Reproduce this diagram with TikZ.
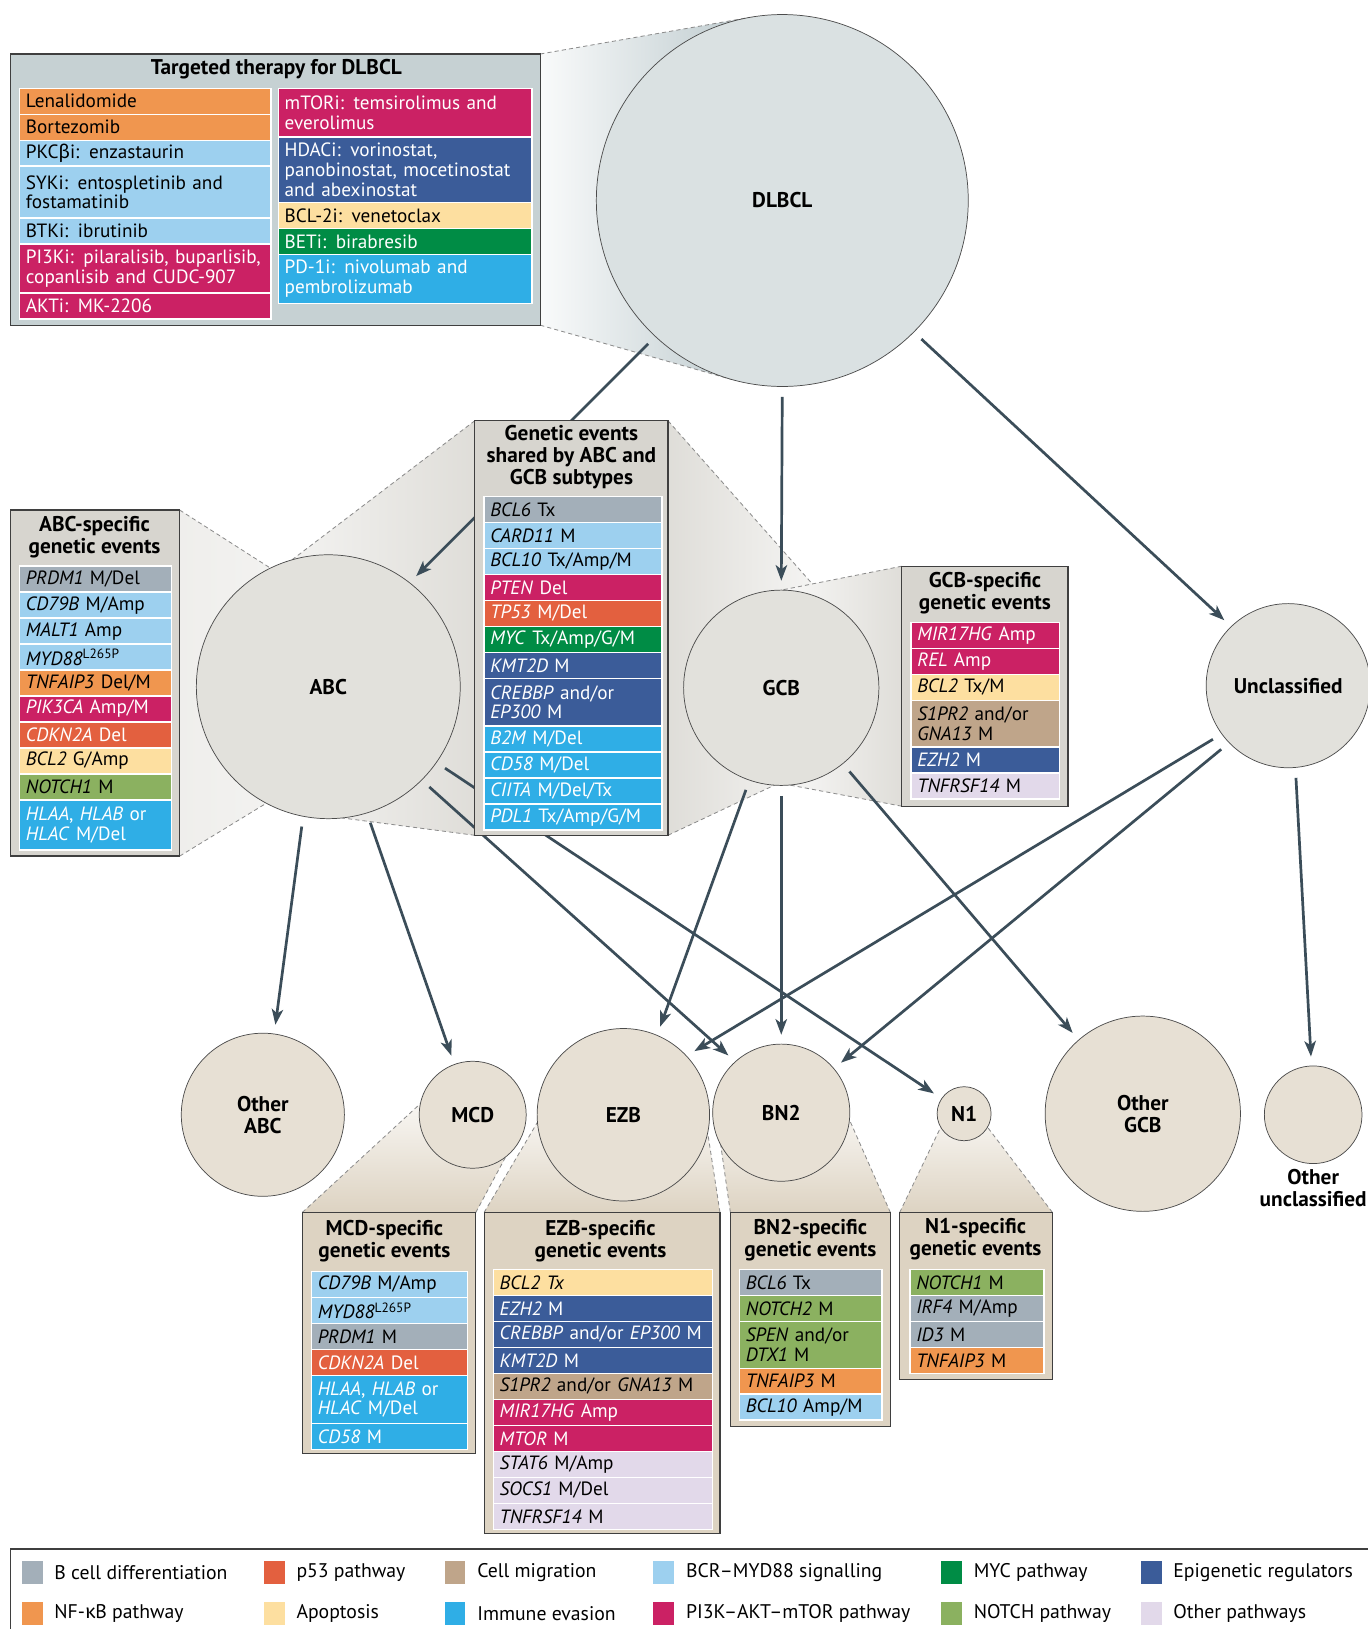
\documentclass[tikz,border=0pt]{standalone}
\usepackage{fontspec}
\setmainfont{PT Sans}
\newfontfamily\grk{Fira Sans}
\usetikzlibrary{positioning,arrows.meta}

\definecolor{cbcell}{HTML}{A3AFB9}
\definecolor{cpf}{HTML}{E3603F}
\definecolor{cmig}{HTML}{BFA58A}
\definecolor{cbcr}{HTML}{9DD0EF}
\definecolor{cmyc}{HTML}{008C45}
\definecolor{cepi}{HTML}{3B5C99}
\definecolor{cnfkb}{HTML}{F0964F}
\definecolor{capo}{HTML}{FDDFA0}
\definecolor{cimm}{HTML}{2FAEE6}
\definecolor{cpik}{HTML}{CB2164}
\definecolor{cnot}{HTML}{8BB160}
\definecolor{coth}{HTML}{E2D9EA}
\definecolor{therfill}{HTML}{C6D1D3}
\definecolor{midfill}{HTML}{D7D5CF}
\definecolor{lowfill}{HTML}{DDD3C2}
\definecolor{boxline}{HTML}{3F3F3F}
\definecolor{arrowc}{HTML}{3B4D59}
\definecolor{dlin}{HTML}{DAE1E2}
\definecolor{dlout}{HTML}{B4C3C7}
\definecolor{midin}{HTML}{E2E1DC}
\definecolor{midout}{HTML}{C3C1BA}
\definecolor{lowin}{HTML}{E7E0D4}
\definecolor{lowout}{HTML}{CBBEA8}

\pgfdeclareradialshading{dlball}{\pgfpoint{0bp}{0bp}}{color(0bp)=(dlin); color(32bp)=(dlin); color(50bp)=(dlout); color(100bp)=(dlout)}
\pgfdeclareradialshading{midball}{\pgfpoint{0bp}{0bp}}{color(0bp)=(midin); color(32bp)=(midin); color(50bp)=(midout); color(100bp)=(midout)}
\pgfdeclareradialshading{lowball}{\pgfpoint{0bp}{0bp}}{color(0bp)=(lowin); color(32bp)=(lowin); color(50bp)=(lowout); color(100bp)=(lowout)}

\pgfdeclarelayer{bg}
\pgfdeclarelayer{mid}
\pgfsetlayers{bg,mid,main}

\newcommand{\gfont}{\fontsize{18.5}{19}\selectfont}
\newcommand{\tfont}{\fontsize{20.5}{21}\selectfont\bfseries}
\newcommand{\lfont}{\fontsize{19}{20}\selectfont}

\begin{document}
\begin{tikzpicture}[x=1pt,y=-1pt,>={Stealth[length=15pt,width=11pt,inset=4pt]}]
\tikzstyle{ball} = [circle,draw=black!70,line width=0.7pt,inner sep=0pt,outer sep=0pt,
font=\tfont,align=center]
\tikzstyle{panel} = [rectangle,draw=boxline,line width=1.2pt,anchor=north west,inner sep=0pt,outer sep=0pt]
\tikzstyle{ttl} = [font=\tfont,align=center,inner sep=0pt]
\tikzstyle{gene} = [rectangle,draw=white,line width=1.4pt,anchor=north west,inner xsep=6pt,
inner ysep=0pt,outer sep=0pt,minimum height=25pt,align=left,font=\gfont,text=black]
\tikzstyle{dark} = [text=white]
\tikzstyle{thw} = [text width=230pt]
\tikzstyle{thv} = [text width=232pt]
\tikzstyle{abw} = [text width=134pt]
\tikzstyle{shw} = [text width=159pt]
\tikzstyle{gcw} = [text width=131pt]
\tikzstyle{mcw} = [text width=138pt]
\tikzstyle{ezw} = [text width=199pt]
\tikzstyle{bnw} = [text width=125pt]
\tikzstyle{naw} = [text width=117pt]
\tikzstyle{flow} = [->,draw=arrowc,line width=2.6pt,shorten <=10pt,shorten >=9pt]
\tikzstyle{funline} = [draw=black!45,line width=0.8pt,dash pattern=on 4pt off 3pt]
\tikzstyle{swatch} = [rectangle,minimum width=20pt,minimum height=22pt,inner sep=0pt]
\tikzstyle{legtxt} = [font=\lfont,inner sep=3pt,anchor=west]

\useasboundingbox (0,0) rectangle (1316,1568);

% subtype circles
\node[ball,minimum size=358pt,shading=dlball] (dl) at (753,193) {DLBCL};
\node[ball,minimum size=254pt,shading=midball] (abc) at (316,661) {ABC};
\node[ball,minimum size=188pt,shading=midball] (gcb) at (752,662) {GCB};
\node[ball,minimum size=158pt,shading=midball] (unc) at (1240,660) {Unclassified};
\node[ball,minimum size=157pt,shading=lowball] (oabc) at (253,1073) {Other\\ABC};
\node[ball,minimum size=103pt,shading=lowball] (mcd) at (455,1073) {MCD};
\node[ball,minimum size=166pt,shading=lowball] (ezb) at (600,1073) {EZB};
\node[ball,minimum size=132pt,shading=lowball] (bn2) at (752,1071) {BN2};
\node[ball,minimum size=52pt,shading=lowball] (n1) at (928,1072) {N1};
\node[ball,minimum size=188pt,shading=lowball] (ogcb) at (1100,1072) {Other\\GCB};
\node[ball,minimum size=94pt,shading=lowball] (ounc) at (1264,1073) {};
\node[ttl,below=5pt of ounc] (ounct) {Other\\unclassified};

% targeted therapy
\node[panel,fill=therfill,minimum width=510pt,minimum height=261pt] (ther) at (10,52) {};
\node[ttl] (thert) at (266,67) {Targeted therapy for DLBCL};
\node[gene,thw,fill=cnfkb] (th1) at (19,85) {Lenalidomide};
\node[gene,thw,fill=cnfkb] (th2) at (19,110) {Bortezomib};
\node[gene,thw,fill=cbcr] (th3) at (19,135) {PKC{\grk β}i: enzastaurin};
\node[gene,thw,fill=cbcr,minimum height=50pt] (th4) at (19,160) {SYKi: entospletinib and\\fostamatinib};
\node[gene,thw,fill=cbcr] (th5) at (19,210) {BTKi: ibrutinib};
\node[gene,thw,dark,fill=cpik,minimum height=47pt] (th6) at (19,235) {PI3Ki: pilaralisib, buparlisib,\\copanlisib and CUDC-907};
\node[gene,thw,dark,fill=cpik] (th7) at (19,282) {AKTi: MK-2206};
\node[gene,thv,dark,fill=cpik,minimum height=47pt] (th8) at (268,85) {mTORi: temsirolimus and\\everolimus};
\node[gene,thv,dark,fill=cepi,minimum height=63pt] (th9) at (268,132) {HDACi: vorinostat,\\panobinostat, mocetinostat\\and abexinostat};
\node[gene,thv,fill=capo] (th10) at (268,195) {BCL-2i: venetoclax};
\node[gene,thv,dark,fill=cmyc] (th11) at (268,220) {BETi: birabresib};
\node[gene,thv,dark,fill=cimm,minimum height=47pt] (th12) at (268,245) {PD-1i: nivolumab and\\pembrolizumab};

% ABC-specific
\node[panel,fill=midfill,minimum width=163pt,minimum height=333pt] (abcb) at (10,491) {};
\node[ttl] (abct) at (91,517) {ABC-specific\\genetic events};
\node[gene,abw,fill=cbcell] (ab1) at (19,545) {\textit{PRDM1} M/Del};
\node[gene,abw,fill=cbcr] (ab2) at (19,570) {\textit{CD79B} M/Amp};
\node[gene,abw,fill=cbcr] (ab3) at (19,595) {\textit{MALT1} Amp};
\node[gene,abw,fill=cbcr] (ab4) at (19,620) {\textit{MYD88}\textsuperscript{L265P}};
\node[gene,abw,fill=cnfkb] (ab5) at (19,645) {\textit{TNFAIP3} Del/M};
\node[gene,abw,dark,fill=cpik] (ab6) at (19,670) {\textit{PIK3CA} Amp/M};
\node[gene,abw,dark,fill=cpf] (ab7) at (19,695) {\textit{CDKN2A} Del};
\node[gene,abw,fill=capo] (ab8) at (19,720) {\textit{BCL2} G/Amp};
\node[gene,abw,fill=cnot] (ab9) at (19,745) {\textit{NOTCH1} M};
\node[gene,abw,dark,fill=cimm,minimum height=48pt] (ab10) at (19,770) {\textit{HLAA}, \textit{HLAB} or\\\textit{HLAC} M/Del};

% shared ABC and GCB
\node[panel,fill=midfill,minimum width=186pt,minimum height=399pt] (shb) at (457,405) {};
\node[ttl] (sht) at (550,440) {Genetic events\\shared by ABC and\\GCB subtypes};
\node[gene,shw,fill=cbcell] (sh1) at (466,478) {\textit{BCL6} Tx};
\node[gene,shw,fill=cbcr] (sh2) at (466,503) {\textit{CARD11} M};
\node[gene,shw,fill=cbcr] (sh3) at (466,528) {\textit{BCL10} Tx/Amp/M};
\node[gene,shw,dark,fill=cpik] (sh4) at (466,553) {\textit{PTEN} Del};
\node[gene,shw,dark,fill=cpf] (sh5) at (466,578) {\textit{TP53} M/Del};
\node[gene,shw,dark,fill=cmyc] (sh6) at (466,603) {\textit{MYC} Tx/Amp/G/M};
\node[gene,shw,dark,fill=cepi] (sh7) at (466,628) {\textit{KMT2D} M};
\node[gene,shw,dark,fill=cepi,minimum height=46pt] (sh8) at (466,653) {\textit{CREBBP} and/or\\\textit{EP300} M};
\node[gene,shw,dark,fill=cimm] (sh9) at (466,699) {\textit{B2M} M/Del};
\node[gene,shw,dark,fill=cimm] (sh10) at (466,724) {\textit{CD58} M/Del};
\node[gene,shw,dark,fill=cimm] (sh11) at (466,749) {\textit{CIITA} M/Del/Tx};
\node[gene,shw,dark,fill=cimm] (sh12) at (466,774) {\textit{PDL1} Tx/Amp/G/M};

% GCB-specific
\node[panel,fill=midfill,minimum width=160pt,minimum height=231pt] (gcbb) at (868,545) {};
\node[ttl] (gcbt) at (948,571) {GCB-specific\\genetic events};
\node[gene,gcw,dark,fill=cpik] (gc1) at (877,599) {\textit{MIR17HG} Amp};
\node[gene,gcw,dark,fill=cpik] (gc2) at (877,624) {\textit{REL} Amp};
\node[gene,gcw,fill=capo] (gc3) at (877,649) {\textit{BCL2} Tx/M};
\node[gene,gcw,fill=cmig,minimum height=45pt] (gc4) at (877,674) {\textit{S1PR2} and/or\\\textit{GNA13} M};
\node[gene,gcw,dark,fill=cepi] (gc5) at (877,719) {\textit{EZH2} M};
\node[gene,gcw,fill=coth] (gc6) at (877,744) {\textit{TNFRSF14} M};

% MCD-specific
\node[panel,fill=lowfill,minimum width=167pt,minimum height=232pt] (mcdb) at (291,1167) {};
\node[ttl] (mcdt) at (370,1195) {MCD-specific\\genetic events};
\node[gene,mcw,fill=cbcr] (mc1) at (300,1224) {\textit{CD79B} M/Amp};
\node[gene,mcw,fill=cbcr] (mc2) at (300,1249) {\textit{MYD88}\textsuperscript{L265P}};
\node[gene,mcw,fill=cbcell] (mc3) at (300,1274) {\textit{PRDM1} M};
\node[gene,mcw,dark,fill=cpf] (mc4) at (300,1299) {\textit{CDKN2A} Del};
\node[gene,mcw,dark,fill=cimm,minimum height=46pt] (mc5) at (300,1324) {\textit{HLAA}, \textit{HLAB} or\\\textit{HLAC} M/Del};
\node[gene,mcw,dark,fill=cimm] (mc6) at (300,1370) {\textit{CD58} M};

% EZB-specific
\node[panel,fill=lowfill,minimum width=227pt,minimum height=309pt] (ezbb) at (466,1167) {};
\node[ttl] (ezbt) at (578,1195) {EZB-specific\\genetic events};
\node[gene,ezw,fill=capo] (ez1) at (475,1222) {\textit{BCL2 Tx}};
\node[gene,ezw,dark,fill=cepi] (ez2) at (475,1247) {\textit{EZH2} M};
\node[gene,ezw,dark,fill=cepi] (ez3) at (475,1272) {\textit{CREBBP} and/or \textit{EP300} M};
\node[gene,ezw,dark,fill=cepi] (ez4) at (475,1297) {\textit{KMT2D} M};
\node[gene,ezw,fill=cmig] (ez5) at (475,1322) {\textit{S1PR2} and/or \textit{GNA13} M};
\node[gene,ezw,dark,fill=cpik] (ez6) at (475,1347) {\textit{MIR17HG} Amp};
\node[gene,ezw,dark,fill=cpik] (ez7) at (475,1372) {\textit{MTOR} M};
\node[gene,ezw,fill=coth] (ez8) at (475,1397) {\textit{STAT6} M/Amp};
\node[gene,ezw,fill=coth] (ez9) at (475,1422) {\textit{SOCS1} M/Del};
\node[gene,ezw,fill=coth] (ez10) at (475,1447) {\textit{TNFRSF14} M};

% BN2-specific
\node[panel,fill=lowfill,minimum width=154pt,minimum height=206pt] (bn2b) at (703,1167) {};
\node[ttl] (bn2t) at (780,1194) {BN2-specific\\genetic events};
\node[gene,bnw,fill=cbcell] (bn1) at (712,1222) {\textit{BCL6} Tx};
\node[gene,bnw,fill=cnot] (bnb) at (712,1247) {\textit{NOTCH2} M};
\node[gene,bnw,fill=cnot,minimum height=45pt] (bnc) at (712,1272) {\textit{SPEN} and/or\\\textit{DTX1} M};
\node[gene,bnw,fill=cnfkb] (bnd) at (712,1317) {\textit{TNFAIP3} M};
\node[gene,bnw,fill=cbcr] (bne) at (712,1342) {\textit{BCL10} Amp/M};

% N1-specific
\node[panel,fill=lowfill,minimum width=147pt,minimum height=161pt] (n1b) at (866,1167) {};
\node[ttl] (n1t) at (939,1193) {N1-specific\\genetic events};
\node[gene,naw,fill=cnot] (na1) at (876,1222) {\textit{NOTCH1} M};
\node[gene,naw,fill=cbcell] (na2) at (876,1247) {\textit{IRF4} M/Amp};
\node[gene,naw,fill=cbcell] (na3) at (876,1272) {\textit{ID3} M};
\node[gene,naw,fill=cnfkb] (na4) at (876,1297) {\textit{TNFAIP3} M};

% legend
\node[panel,minimum width=1330pt,minimum height=100pt] (leg) at (10,1491) {};
\node[swatch,fill=cbcell] (lg1) at (31,1514) {};
\node[swatch,fill=cpf] (lg2) at (264,1514) {};
\node[swatch,fill=cmig] (lg3) at (438,1514) {};
\node[swatch,fill=cbcr] (lg4) at (639,1514) {};
\node[swatch,fill=cmyc] (lg5) at (916,1514) {};
\node[swatch,fill=cepi] (lg6) at (1108,1514) {};
\node[swatch,fill=cnfkb] (lg7) at (31,1553) {};
\node[swatch,fill=capo] (lg8) at (264,1553) {};
\node[swatch,fill=cimm] (lg9) at (438,1553) {};
\node[swatch,fill=cpik] (lg10) at (639,1553) {};
\node[swatch,fill=cnot] (lg11) at (916,1553) {};
\node[swatch,fill=coth] (lg12) at (1108,1553) {};
\node[legtxt,right=8pt of lg1] (lt1) {B cell differentiation};
\node[legtxt,right=8pt of lg2] (lt2) {p53 pathway};
\node[legtxt,right=8pt of lg3] (lt3) {Cell migration};
\node[legtxt,right=8pt of lg4] (lt4) {BCR--MYD88 signalling};
\node[legtxt,right=8pt of lg5] (lt5) {MYC pathway};
\node[legtxt,right=8pt of lg6] (lt6) {Epigenetic regulators};
\node[legtxt,right=8pt of lg7] (lt7) {NF-{\grk κ}B pathway};
\node[legtxt,right=8pt of lg8] (lt8) {Apoptosis};
\node[legtxt,right=8pt of lg9] (lt9) {Immune evasion};
\node[legtxt,right=8pt of lg10] (lt10) {PI3K--AKT--mTOR pathway};
\node[legtxt,right=8pt of lg11] (lt11) {NOTCH pathway};
\node[legtxt,right=8pt of lg12] (lt12) {Other pathways};

% arrows between subtypes
\begin{pgfonlayer}{mid}
\draw[flow] (dl.-133) -- (abc.52);
\draw[flow] (dl.-90) -- (gcb.90);
\draw[flow] (dl.-45) -- (unc.134);
\draw[flow] (abc.-101) -- (oabc.82);
\draw[flow] (abc.-73) -- (mcd.110);
\draw[flow] (abc.-45) -- (bn2.132);
\draw[flow] (abc.-35) -- (n1.146);
\draw[flow] (gcb.-109) -- (ezb.67);
\draw[flow] (gcb.-90) -- (bn2.90);
\draw[flow] (gcb.-51) -- (ogcb.131);
\draw[flow] (unc.-144) -- (ezb.43);
\draw[flow] (unc.-136) -- (bn2.40);
\draw[flow] (unc.-85) -- (ounc.92);
\end{pgfonlayer}

% funnels from circles to panels
\begin{pgfonlayer}{bg}
\fill[white] (0,0) rectangle (1316,1568);
\shade[left color=white!90!therfill,right color=dlout] (ther.north east) -- (dl.100) -- (dl.center) -- (dl.-106) -- (ther.south east) -- cycle;
\draw[funline] (ther.north east) -- (dl.100);
\draw[funline] (ther.south east) -- (dl.-106);
\shade[left color=white!60!midfill,right color=white!75!midfill] (abcb.north east) -- (abc.116) -- (abc.center) -- (abc.242) -- (abcb.south east) -- cycle;
\draw[funline] (abcb.north east) -- (abc.116);
\draw[funline] (abcb.south east) -- (abc.242);
\shade[left color=white!70!midfill,right color=white!20!midfill] (shb.north west) -- (abc.106) -- (abc.center) -- (abc.-84) -- (shb.south west) -- cycle;
\draw[funline] (shb.north west) -- (abc.106);
\draw[funline] (shb.south west) -- (abc.-84);
\shade[left color=white!20!midfill,right color=white!80!midfill] (shb.north east) -- (gcb.61) -- (gcb.center) -- (gcb.-94) -- (shb.south east) -- cycle;
\draw[funline] (shb.north east) -- (gcb.61);
\draw[funline] (shb.south east) -- (gcb.-94);
\shade[left color=white!85!midfill,right color=white!20!midfill] (gcbb.north west) -- (gcb.90) -- (gcb.center) -- (gcb.-85) -- (gcbb.south west) -- cycle;
\draw[funline] (gcbb.north west) -- (gcb.90);
\draw[funline] (gcbb.south west) -- (gcb.-85);
\shade[top color=white!80!lowfill,bottom color=lowfill] (mcdb.north west) -- (mcd.168) -- (mcd.center) -- (mcd.-52) -- (mcdb.north east) -- cycle;
\draw[funline] (mcdb.north west) -- (mcd.168);
\draw[funline] (mcdb.north east) -- (mcd.-52);
\shade[top color=white!80!lowfill,bottom color=lowfill] (ezbb.north west) -- (ezb.185) -- (ezb.center) -- (ezb.-12) -- (ezbb.north east) -- cycle;
\draw[funline] (ezbb.north west) -- (ezb.185);
\draw[funline] (ezbb.north east) -- (ezb.-12);
\shade[top color=white!80!lowfill,bottom color=lowfill] (bn2b.north west) -- (bn2.208) -- (bn2.center) -- (bn2.-6) -- (bn2b.north east) -- cycle;
\draw[funline] (bn2b.north west) -- (bn2.208);
\draw[funline] (bn2b.north east) -- (bn2.-6);
\shade[top color=white!80!lowfill,bottom color=lowfill] (n1b.north west) -- (n1.210) -- (n1.center) -- (n1.-30) -- (n1b.north east) -- cycle;
\draw[funline] (n1b.north west) -- (n1.210);
\draw[funline] (n1b.north east) -- (n1.-30);
\end{pgfonlayer}
\end{tikzpicture}
\end{document}
